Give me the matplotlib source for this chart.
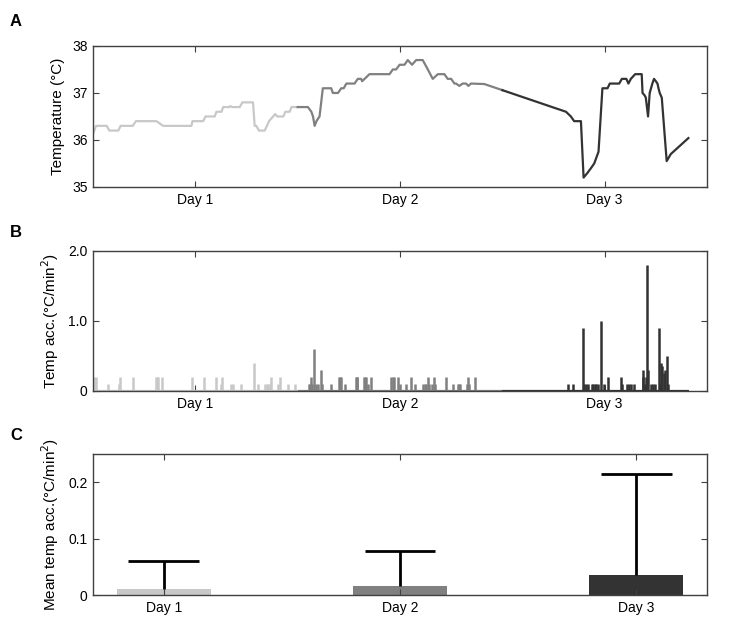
import numpy as np
import matplotlib
matplotlib.use('Agg')
import matplotlib.pyplot as plt

plt.rcParams['font.family'] = ['Liberation Sans', 'DejaVu Sans']
plt.rcParams['font.size'] = 10

days = ['Day 1', 'Day 2', 'Day 3']
day_pos = [1, 2, 3]
day_colors = ['#c8c8c8', '#808080', '#333333']

# panel A: body temperature (time in days, temp in deg C)
day1_t = [0.502, 0.515, 0.567, 0.58, 0.624, 0.635, 0.694, 0.71, 0.81, 0.843, 0.981, 0.986,
          1.038, 1.05, 1.095, 1.103, 1.128, 1.136, 1.165, 1.17, 1.18, 1.217, 1.23, 1.282,
          1.29, 1.298, 1.311, 1.339, 1.35, 1.36, 1.38, 1.39, 1.40, 1.43, 1.44, 1.461, 1.47, 1.5]
day1_temp = [36.15, 36.3, 36.3, 36.2, 36.2, 36.3, 36.3, 36.4, 36.4, 36.3, 36.3, 36.4,
             36.4, 36.5, 36.5, 36.6, 36.6, 36.7, 36.7, 36.72, 36.7, 36.7, 36.8, 36.8,
             36.3, 36.3, 36.2, 36.2, 36.3, 36.4, 36.5, 36.55, 36.5, 36.5, 36.6, 36.6, 36.7, 36.7]
day2_t = [1.5, 1.55, 1.567, 1.575, 1.583, 1.592, 1.599, 1.607, 1.623, 1.664, 1.672, 1.697,
          1.713, 1.725, 1.738, 1.778, 1.794, 1.81, 1.815, 1.827, 1.851, 1.949, 1.965, 1.981,
          1.998, 2.022, 2.038, 2.059, 2.079, 2.111, 2.136, 2.160, 2.185, 2.217, 2.233, 2.250,
          2.266, 2.274, 2.290, 2.306, 2.323, 2.334, 2.347, 2.412, 2.5]
day2_temp = [36.7, 36.7, 36.6, 36.5, 36.3, 36.4, 36.45, 36.5, 37.1, 37.1, 37.0, 37.0,
             37.1, 37.1, 37.2, 37.2, 37.3, 37.3, 37.25, 37.3, 37.4, 37.4, 37.5, 37.5,
             37.6, 37.6, 37.7, 37.6, 37.7, 37.7, 37.5, 37.3, 37.4, 37.4, 37.3, 37.3,
             37.2, 37.2, 37.15, 37.2, 37.2, 37.15, 37.2, 37.19, 37.06]
day3_t = [2.5, 2.811, 2.835, 2.851, 2.884, 2.897, 2.916, 2.933, 2.949, 2.970, 2.989, 3.014,
          3.025, 3.071, 3.084, 3.106, 3.116, 3.128, 3.149, 3.181, 3.185, 3.195, 3.201, 3.212,
          3.220, 3.233, 3.241, 3.250, 3.258, 3.263, 3.269, 3.279, 3.303, 3.323, 3.409]
day3_temp = [37.06, 36.6, 36.5, 36.4, 36.4, 35.2, 35.3, 35.4, 35.5, 35.75, 37.1, 37.1,
             37.2, 37.2, 37.3, 37.3, 37.2, 37.3, 37.4, 37.4, 37.0, 36.95, 36.9, 36.5,
             37.0, 37.2, 37.3, 37.25, 37.2, 37.1, 37.0, 36.9, 35.55, 35.7, 36.04]

# panel B: temperature acceleration spikes
day1_acc_t = [0.507, 0.513, 0.575, 0.627, 0.632, 0.697, 0.807, 0.814, 0.820, 0.835, 0.986,
              1.041, 1.103, 1.126, 1.131, 1.176, 1.185, 1.225, 1.285, 1.306, 1.342, 1.349,
              1.355, 1.363, 1.372, 1.404, 1.412, 1.453, 1.485]
day1_acc = [0.2, 0.2, 0.1, 0.1, 0.2, 0.2, 0.2, 0.2, 0.2, 0.2, 0.2,
            0.2, 0.2, 0.1, 0.2, 0.1, 0.1, 0.1, 0.4, 0.1, 0.1, 0.1,
            0.1, 0.1, 0.2, 0.1, 0.2, 0.1, 0.1]
day2_acc_t = [1.555, 1.562, 1.567, 1.572, 1.578, 1.588, 1.599, 1.612, 1.619, 1.664, 1.700,
              1.705, 1.710, 1.729, 1.783, 1.788, 1.791, 1.824, 1.830, 1.835, 1.843, 1.856,
              1.957, 1.965, 1.973, 1.989, 1.998, 2.030, 2.055, 2.071, 2.111, 2.120, 2.128,
              2.136, 2.144, 2.157, 2.168, 2.173, 2.225, 2.258, 2.282, 2.290, 2.295, 2.328,
              2.334, 2.339, 2.368]
day2_acc = [0.1, 0.1, 0.2, 0.1, 0.6, 0.1, 0.1, 0.3, 0.1, 0.1, 0.2,
            0.2, 0.2, 0.1, 0.2, 0.2, 0.2, 0.2, 0.2, 0.2, 0.1, 0.2,
            0.2, 0.2, 0.2, 0.2, 0.1, 0.1, 0.2, 0.1, 0.1, 0.1, 0.1,
            0.2, 0.1, 0.1, 0.2, 0.1, 0.2, 0.1, 0.1, 0.1, 0.1, 0.1,
            0.2, 0.1, 0.2]
day3_acc_t = [2.822, 2.843, 2.892, 2.900, 2.908, 2.920, 2.936, 2.944, 2.952, 2.960, 2.968,
              2.980, 2.998, 3.017, 3.079, 3.084, 3.108, 3.120, 3.131, 3.142, 3.185, 3.189,
              3.196, 3.201, 3.207, 3.214, 3.225, 3.237, 3.248, 3.264, 3.269, 3.274, 3.282,
              3.290, 3.297, 3.303, 3.311]
day3_acc = [0.1, 0.1, 0.9, 0.1, 0.1, 0.1, 0.1, 0.1, 0.1, 0.1, 0.1,
            1.0, 0.1, 0.2, 0.2, 0.1, 0.1, 0.1, 0.1, 0.1, 0.3, 0.2,
            0.1, 0.2, 1.8, 0.3, 0.1, 0.1, 0.1, 0.9, 0.1, 0.4, 0.35,
            0.25, 0.3, 0.5, 0.1]
acc_span = [(0.5, 1.5), (1.5, 2.5), (2.5, 3.41)]

# panel C: mean acceleration per day with upper error
mean_acc = [0.011, 0.016, 0.036]
err_acc = [0.049, 0.062, 0.179]

spine_col = '#404040'


def style(ax):
    for s in ax.spines.values():
        s.set_color(spine_col)
        s.set_linewidth(1.0)
    ax.tick_params(direction='in', top=True, right=True, length=4,
                   color=spine_col, labelsize=10, pad=4)


fig = plt.figure(figsize=(7.45, 6.27), dpi=100)
axA = fig.add_axes([0.1248, 0.7018, 0.8242, 0.2249])
axB = fig.add_axes([0.1248, 0.3764, 0.8242, 0.2233])
axC = fig.add_axes([0.1248, 0.0510, 0.8242, 0.2249])

# A
for t, temp, c in zip([day1_t, day2_t, day3_t], [day1_temp, day2_temp, day3_temp], day_colors):
    axA.plot(t, temp, color=c, lw=1.6)
axA.set_xlim(0.5, 3.5)
axA.set_ylim(35, 38)
axA.set_xticks(day_pos)
axA.set_xticklabels(days)
axA.set_yticks([35, 36, 37, 38])
axA.set_ylabel('Temperature (°C)', fontsize=11, labelpad=5)
style(axA)

# B
for t, a, c, sp in zip([day1_acc_t, day2_acc_t, day3_acc_t], [day1_acc, day2_acc, day3_acc],
                       day_colors, acc_span):
    axB.hlines(0, sp[0], sp[1], color=c, lw=1.6)
    axB.vlines(t, 0, a, color=c, lw=1.8)
axB.set_xlim(0.5, 3.5)
axB.set_ylim(0, 2)
axB.set_xticks(day_pos)
axB.set_xticklabels(days)
axB.set_yticks([0, 1, 2])
axB.set_yticklabels(['0', '1.0', '2.0'])
axB.set_ylabel('Temp acc.(°C/min$^2$)', fontsize=11, labelpad=5)
style(axB)

# C
axC.bar(day_pos, mean_acc, width=0.4, color=day_colors)
tops = np.array(mean_acc) + np.array(err_acc)
axC.vlines(day_pos, mean_acc, tops, color='black', lw=2)
axC.hlines(tops, np.array(day_pos) - 0.15, np.array(day_pos) + 0.15, color='black', lw=2)
axC.set_xlim(0.7, 3.3)
axC.set_ylim(0, 0.25)
axC.set_xticks(day_pos)
axC.set_xticklabels(days)
axC.set_yticks([0, 0.1, 0.2])
axC.set_yticklabels(['0', '0.1', '0.2'])
axC.set_ylabel('Mean temp acc.(°C/min$^2$)', fontsize=11, labelpad=5)
style(axC)

for lab, y in zip(['A', 'B', 'C'], [22, 232, 435]):
    fig.text(10 / 745, 1 - y / 627, lab, fontsize=12, fontweight='bold', va='center')

fig.savefig('out.png', dpi=100)
